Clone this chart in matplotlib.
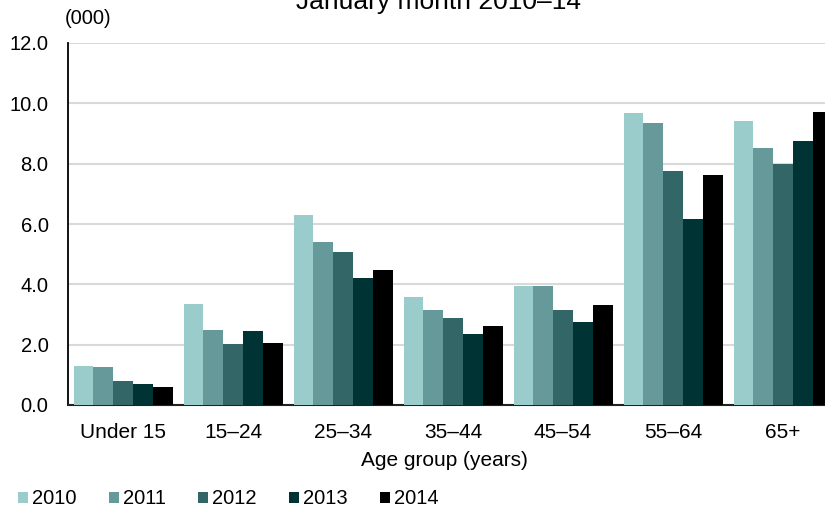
import numpy as np
import matplotlib
matplotlib.use('Agg')
import matplotlib.pyplot as plt

plt.rcParams['font.family'] = ['Liberation Sans', 'DejaVu Sans']

age_groups = ['Under 15', '15\u201324', '25\u201334', '35\u201344', '45\u201354', '55\u201364', '65+']
years = ['2010', '2011', '2012', '2013', '2014']
v2010 = [1.29, 3.34, 6.30, 3.59, 3.96, 9.69, 9.43]
v2011 = [1.27, 2.47, 5.41, 3.15, 3.96, 9.36, 8.51]
v2012 = [0.81, 2.02, 5.07, 2.89, 3.15, 7.77, 7.99]
v2013 = [0.68, 2.44, 4.21, 2.36, 2.75, 6.18, 8.76]
v2014 = [0.59, 2.05, 4.46, 2.62, 3.32, 7.64, 9.71]
series = [v2010, v2011, v2012, v2013, v2014]
colors = ['#9acccc', '#669999', '#336666', '#003333', '#000000']

W, H = 825, 512
fig = plt.figure(figsize=(W / 100, H / 100), dpi=100)
# axes runs a little past the right edge, as in the source image
ax = fig.add_axes([68 / W, 107 / H, 770 / W, 362 / H])

x = np.arange(len(age_groups))
w = 0.18
handles = []
for i, (vals, c) in enumerate(zip(series, colors)):
    b = ax.bar(x + (i - 2) * w, vals, w, color=c, label=years[i], zorder=3)
    handles.append(b)

ax.set_xlim(-0.5, len(age_groups) - 0.5)
ax.set_ylim(0, 12)
ax.set_yticks(np.arange(0, 12.1, 2))
ax.set_yticklabels([f'{v:.1f}' for v in np.arange(0, 12.1, 2)], fontsize=14.5)
ax.set_xticks(x)
ax.set_xticklabels(age_groups, fontsize=15)
ax.tick_params(axis='both', length=0)
ax.tick_params(axis='y', pad=14)
ax.tick_params(axis='x', pad=13)
ax.grid(axis='y', color='#d9d9d9', lw=1.5, zorder=0)
for s in ['top', 'right']:
    ax.spines[s].set_visible(False)
ax.spines['left'].set_linewidth(1.3)
ax.spines['bottom'].set_linewidth(1.5)
ax.spines['bottom'].set_color('#222222')

fig.text(65 / W, 1 - 18 / H, '(000)', fontsize=14.5, ha='left', va='center')
fig.text(438 / W, 1 - 9 / H, 'January month 2010\u201314', fontsize=19,
         ha='center', va='baseline')
fig.text(444 / W, 1 - 461 / H, 'Age group (years)', fontsize=15,
         ha='center', va='center')

fig.legend(handles=handles, labels=years, loc='center left',
           bbox_to_anchor=(18 / W, 13 / H), ncol=5, frameon=False,
           fontsize=14.5, handlelength=0.5, handleheight=0.5,
           handletextpad=0.2, columnspacing=1.6, borderpad=0,
           borderaxespad=0)

fig.savefig('out.png', dpi=100)
